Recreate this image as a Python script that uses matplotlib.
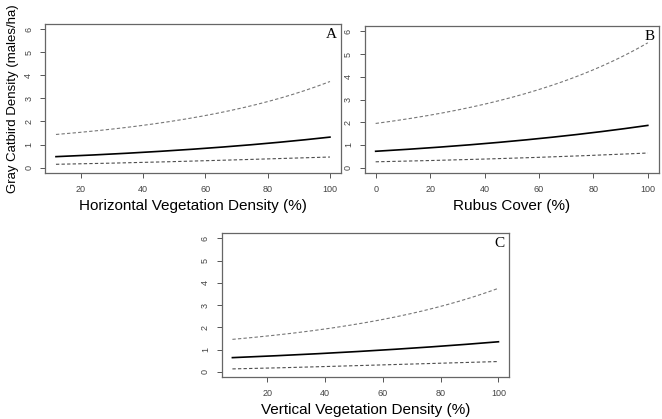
import numpy as np
import matplotlib
matplotlib.use("Agg")
import matplotlib.pyplot as plt

plt.rcParams['font.family'] = ['Liberation Sans', 'DejaVu Sans']

# panel A: horizontal vegetation density
xa = [12, 20, 40, 60, 80, 100]
mean_a = [0.47, 0.52, 0.67, 0.83, 1.04, 1.33]
upper_a = [1.43, 1.54, 1.83, 2.26, 2.86, 3.74]
lower_a = [0.14, 0.16, 0.23, 0.29, 0.37, 0.46]

# panel B: rubus cover
xb = [0, 20, 40, 60, 80, 100]
mean_b = [0.72, 0.87, 1.06, 1.28, 1.54, 1.86]
upper_b = [1.94, 2.32, 2.80, 3.43, 4.30, 5.51]
lower_b = [0.26, 0.30, 0.38, 0.46, 0.54, 0.64]

# panel C: vertical vegetation density
xc = [8, 20, 40, 60, 80, 100]
mean_c = [0.63, 0.71, 0.83, 0.97, 1.15, 1.35]
upper_c = [1.46, 1.60, 1.92, 2.37, 2.92, 3.76]
lower_c = [0.13, 0.16, 0.24, 0.31, 0.39, 0.46]

xlabels = ['Horizontal Vegetation Density (%)', 'Rubus Cover (%)',
           'Vertical Vegetation Density (%)']
letters = ['A', 'B', 'C']
yticks = [0, 1, 2, 3, 4, 5, 6]

fig = plt.figure(figsize=(6.62, 4.19), dpi=100)

pos = [[0.068, 0.587, 0.447, 0.356],
       [0.551, 0.587, 0.444, 0.351],
       [0.335, 0.100, 0.434, 0.344]]
panels = [(xa, mean_a, upper_a, lower_a, [20, 40, 60, 80, 100]),
          (xb, mean_b, upper_b, lower_b, [0, 20, 40, 60, 80, 100]),
          (xc, mean_c, upper_c, lower_c, [20, 40, 60, 80, 100])]

for i, (x, m, u, l, xt) in enumerate(panels):
    ax = fig.add_axes(pos[i])
    # smooth the read points a little for drawing
    xs = np.linspace(x[0], x[-1], 200)
    for ys, style in [(u, dict(color='#777777', lw=0.8, ls=(0, (3, 2)))),
                      (l, dict(color='#4d4d4d', lw=0.8, ls=(0, (3, 2)))),
                      (m, dict(color='black', lw=1.2, ls='-'))]:
        cs = np.polyfit(x, np.log(ys), 2)
        ax.plot(xs, np.exp(np.polyval(cs, xs)), **style)

    pad = (x[-1] - x[0]) * 0.04
    ax.set_xlim(x[0] - pad, x[-1] + pad)
    ax.set_ylim(-0.24, 6.24)
    ax.set_xticks(xt)
    ax.set_yticks(yticks)
    ax.tick_params(axis='both', direction='out', length=3.5, width=0.7,
                   colors='#555555', labelsize=6.5, labelcolor='#444444', pad=5)
    for lab in ax.get_yticklabels():
        lab.set_rotation(90)
        lab.set_va('center')
    for s in ax.spines.values():
        s.set_color('#666666')
        s.set_linewidth(0.9)
    ax.set_xlabel(xlabels[i], fontsize=11, labelpad=4)
    ax.text(0.985, 0.97, letters[i], transform=ax.transAxes, ha='right', va='top',
            fontsize=11, family=['Liberation Serif', 'DejaVu Serif'])
    if i == 0:
        ax.set_ylabel('Gray Catbird Density (males/ha)', fontsize=9.5, labelpad=4)

fig.savefig('out.png', dpi=100)
